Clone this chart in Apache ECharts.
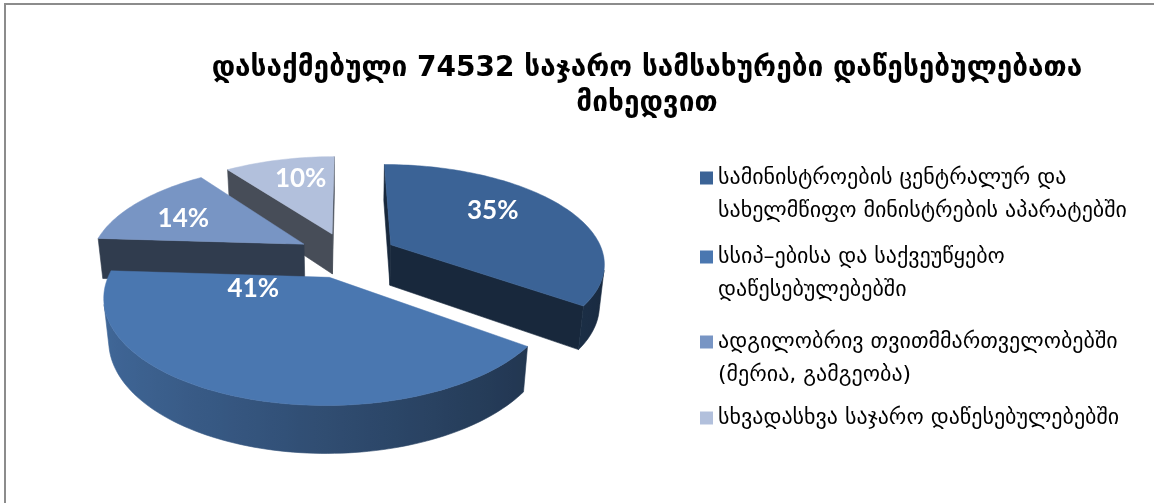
<!DOCTYPE html>
<html>
<head>
<meta charset="utf-8">
<script src="https://cdn.jsdelivr.net/npm/echarts@6/dist/echarts.min.js"></script>
<style>
  html, body { margin: 0; padding: 0; background: #ffffff; }
  #chart { width: 1154px; height: 503px; }
</style>
</head>
<body>
<div id="chart"></div>
<script>
// ---- data ----
const titleLines = ['დასაქმებული 74532 საჯარო სამსახურები დაწესებულებათა', 'მიხედვით'];
const categories = [
  'სამინისტროების ცენტრალურ და\nსახელმწიფო მინისტრების აპარატებში',
  'სსიპ–ებისა და საქვეუწყებო\nდაწესებულებებში',
  'ადგილობრივ თვითმმართველობებში\n(მერია, გამგეობა)',
  'სხვადასხვა საჯარო დაწესებულებებში'
];
const shares = [35, 41, 14, 10];

// ---- style / layout ----
const colors = ['#3b6396', '#4a77b0', '#7895c4', '#b2c0dc'];
const legendFirstLine = [178, 257, 342, 418];    // y of the first text line of each legend entry
const labelNudge = [[-3, -10], [-24, -55], [-18, 0], [2, -8]];
const PIE = { cx: 347, cy: 255, R: 213, H: 47, explode: 50, sinT: 0.457, cosT: 0.889, D: 1100 };
const LEGEND_LINE = 33;

// perspective projection of a point (X right, Y up, Z away from viewer)
function project(X, Y, Z) {
  const d = Z * PIE.cosT - Y * PIE.sinT;
  const f = PIE.D / (PIE.D + d);
  const s = Y * PIE.cosT + Z * PIE.sinT;
  return [PIE.cx + X * f, PIE.cy - s * f];
}
// camera position in the same space
const CAM = [0, PIE.D * PIE.sinT, -PIE.D * PIE.cosT];
function facing(n, p) {
  return n[0] * (CAM[0] - p[0]) + n[1] * (CAM[1] - p[1]) + n[2] * (CAM[2] - p[2]) > 0;
}
function shadeColor(hex, k) {
  const v = parseInt(hex.slice(1), 16);
  const r = Math.min(255, Math.round(((v >> 16) & 255) * k));
  const g = Math.min(255, Math.round(((v >> 8) & 255) * k));
  const b = Math.min(255, Math.round((v & 255) * k));
  return 'rgb(' + r + ',' + g + ',' + b + ')';
}
function wallShade(t) {
  return Math.max(0.38, Math.min(0.9, 0.645 - 0.229 * Math.sin(t)));
}

const total = shares.reduce((a, b) => a + b, 0);
function sliceAngles(idx) {
  let acc = 0;
  for (let j = 0; j < idx; j++) acc += shares[j];
  const a0 = acc / total * Math.PI * 2;
  const a1 = (acc + shares[idx]) / total * Math.PI * 2;
  return [a0, a1, (a0 + a1) / 2];
}

// draws one exploded 3D slice: visible walls first, then the top face and its label
function renderSlice(idx) {
  return function (params, api) {
    const value = api.value(0);
    const [a0, a1, am] = sliceAngles(idx);
    const { R, H, explode } = PIE;
    const ox = explode * Math.sin(am), oz = explode * Math.cos(am);
    const steps = Math.max(8, Math.ceil((a1 - a0) / (Math.PI / 120)));
    const top = [], bot = [], ang = [];
    for (let k = 0; k <= steps; k++) {
      const t = a0 + (a1 - a0) * k / steps;
      const X = ox + R * Math.sin(t), Z = oz + R * Math.cos(t);
      top.push(project(X, 0, Z));
      bot.push(project(X, -H, Z));
      ang.push(t);
    }
    const apexT = project(ox, 0, oz), apexB = project(ox, -H, oz);
    const base = colors[idx];
    const children = [];
    const addPoly = (pts, fill) => children.push({
      type: 'polygon', shape: { points: pts },
      style: { fill: fill, stroke: fill, lineWidth: 0.6 }
    });

    // radial cut faces
    const mid = [ox, -H / 2, oz];
    if (facing([-Math.cos(a0), 0, Math.sin(a0)], mid)) {
      addPoly([apexT, top[0], bot[0], apexB], shadeColor(base, 0.4));
    }
    if (facing([Math.cos(a1), 0, -Math.sin(a1)], mid)) {
      addPoly([apexT, top[steps], bot[steps], apexB], shadeColor(base, 0.4));
    }
    // outer curved wall: the contiguous run of vertices facing the viewer
    const vis = [];
    for (let k = 0; k <= steps; k++) {
      const t = ang[k];
      const p = [ox + R * Math.sin(t), -H / 2, oz + R * Math.cos(t)];
      if (facing([Math.sin(t), 0, Math.cos(t)], p)) vis.push(k);
    }
    if (vis.length >= 2) {
      const k0 = vis[0], k1 = vis[vis.length - 1];
      const pts = [];
      for (let k = k0; k <= k1; k++) pts.push(top[k]);
      for (let k = k1; k >= k0; k--) pts.push(bot[k]);
      let xMin = Infinity, xMax = -Infinity;
      for (let k = k0; k <= k1; k++) { xMin = Math.min(xMin, top[k][0]); xMax = Math.max(xMax, top[k][0]); }
      const span = Math.max(1, xMax - xMin);
      const stops = [];
      for (let k = k0; k <= k1; k += 2) {
        stops.push({ offset: (top[k][0] - xMin) / span, color: shadeColor(base, wallShade(ang[k])) });
      }
      stops.sort((a, b) => a.offset - b.offset);
      const grad = { type: 'linear', x: xMin, y: 0, x2: xMax, y2: 0, global: true, colorStops: stops };
      children.push({
        type: 'polygon', shape: { points: pts },
        style: { fill: grad, stroke: grad, lineWidth: 0.6 }
      });
    }
    // top face
    children.push({
      type: 'polygon', shape: { points: [apexT].concat(top) },
      style: { fill: base, stroke: base, lineWidth: 0.5 }
    });
    // percentage label
    const rl = 0.6 * R + explode;
    const lp = project(rl * Math.sin(am), 0, rl * Math.cos(am));
    children.push({
      type: 'text', z2: 10,
      style: {
        text: Math.round(value / total * 100) + '%',
        x: lp[0] + labelNudge[idx][0], y: lp[1] + labelNudge[idx][1],
        fill: '#ffffff', fontFamily: 'Lato', fontWeight: 'bold', fontSize: 26,
        align: 'center', verticalAlign: 'middle',
        textAlign: 'center', textVerticalAlign: 'middle'
      }
    });
    return { type: 'group', children: children };
  };
}

const chart = echarts.init(document.getElementById('chart'), null, { renderer: 'canvas' });

// one legend block per entry so the marker sits beside the first text line
const legends = categories.map((name, i) => {
  const lines = name.split('\n').length;
  return {
    data: [name],
    orient: 'vertical',
    left: 700,
    top: legendFirstLine[i] - (2 * lines - 1) * LEGEND_LINE / 2,
    padding: 0,
    itemWidth: 13,
    itemHeight: 13,
    icon: 'rect',
    selectedMode: false,
    formatter: (n) => '\n'.repeat(lines - 1) + n,
    textStyle: {
      fontFamily: 'DejaVu Sans', fontSize: 22, lineHeight: LEGEND_LINE, color: '#000000'
    }
  };
});

const series = categories.map((name, i) => {
  const am = sliceAngles(i)[2];
  return {
    type: 'custom',
    name: name,
    coordinateSystem: 'none',
    data: [shares[i]],
    itemStyle: { color: colors[i] },
    z: 3 - Math.cos(am),
    silent: true,
    animation: false,
    renderItem: renderSlice(i)
  };
});

chart.setOption({
  backgroundColor: '#ffffff',
  animation: false,
  legend: legends,
  graphic: [
    {
      type: 'rect', silent: true,
      shape: { x: 5, y: 4, width: 1200, height: 600 },
      style: { fill: 'none', stroke: '#8c8c8c', lineWidth: 2 }
    },
    {
      type: 'text', silent: true,
      style: {
        text: titleLines.join('\n'),
        x: 647, y: 86,
        fill: '#000000', fontFamily: 'DejaVu Sans', fontWeight: 'bold', fontSize: 28, lineHeight: 35,
        align: 'center', verticalAlign: 'middle',
        textAlign: 'center', textVerticalAlign: 'middle'
      }
    }
  ],
  series: series
});
</script>
</body>
</html>
